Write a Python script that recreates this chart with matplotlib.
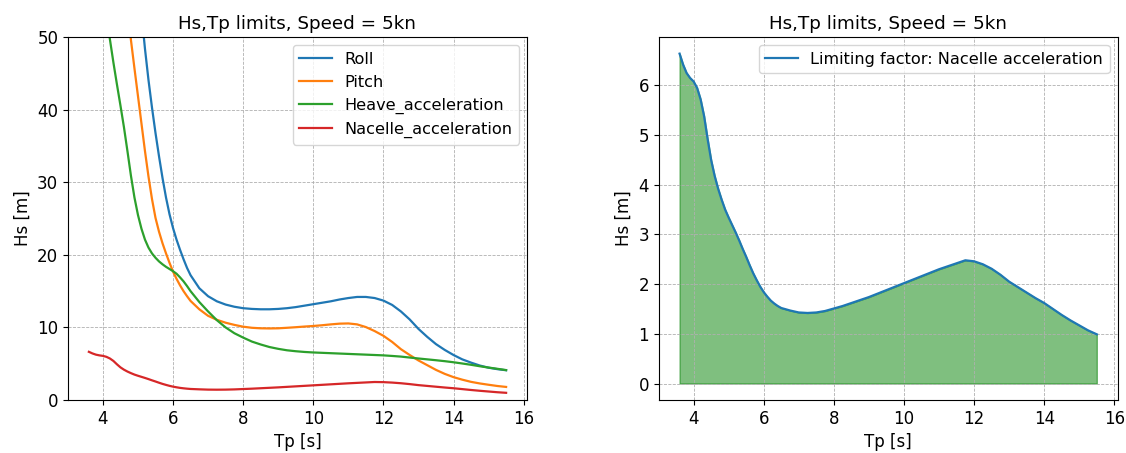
import matplotlib
matplotlib.use("Agg")
import matplotlib.pyplot as plt

plt.rcParams['font.family'] = ['DejaVu Sans']
plt.rcParams['font.size'] = 12

Tp = [3.6, 3.7, 3.8, 3.9, 4.0, 4.1, 4.2, 4.3, 4.4, 4.5, 4.6, 4.7, 4.8, 4.9, 5.0,
      5.1, 5.2, 5.3, 5.4, 5.5, 5.6, 5.7, 5.8, 5.9, 6.0, 6.1, 6.2, 6.3, 6.4, 6.5,
      6.75, 7.0, 7.25, 7.5, 7.75, 8.0, 8.25, 8.5, 8.75, 9.0, 9.25, 9.5, 9.75,
      10.0, 10.25, 10.5, 10.75, 11.0, 11.25, 11.5, 11.75, 12.0, 12.25, 12.5, 12.75,
      13.0, 13.25, 13.5, 13.75, 14.0, 14.25, 14.5, 14.75, 15.0, 15.25, 15.5]

roll = [300, 270, 240, 215, 190, 170, 150, 133, 118, 105, 94, 84, 75, 67, 60,
        53.3, 48.4, 44.1, 40.3, 36.8, 33.6, 30.6, 27.9, 25.6, 23.7, 22.1, 20.7, 19.4, 18.2, 17.2,
        15.4, 14.3, 13.6, 13.15, 12.85, 12.65, 12.55, 12.5, 12.5, 12.55, 12.65, 12.8, 13.0,
        13.2, 13.4, 13.6, 13.85, 14.05, 14.2, 14.2, 14.05, 13.7, 13.1, 12.2, 11.1,
        9.8, 8.7, 7.7, 6.9, 6.2, 5.6, 5.15, 4.75, 4.45, 4.25, 4.1]

pitch = [200, 180, 162, 146, 132, 119, 107, 96, 80, 70, 61.5, 54.6, 49.6, 45.7, 41.9,
         38.1, 34.3, 30.8, 27.7, 25.1, 23.2, 21.6, 20.2, 18.9, 17.7, 16.7, 15.8, 15.0, 14.3, 13.65,
         12.5, 11.6, 11.05, 10.65, 10.35, 10.1, 9.95, 9.88, 9.86, 9.88, 9.95, 10.03, 10.12,
         10.2, 10.3, 10.42, 10.52, 10.55, 10.42, 10.05, 9.5, 8.85, 8.0, 7.0, 6.2,
         5.45, 4.8, 4.15, 3.6, 3.15, 2.8, 2.5, 2.28, 2.1, 1.93, 1.8]

heave = [90, 80, 71, 63.5, 57.5, 53.2, 49.7, 46.5, 43.5, 40.6, 37.6, 34.3, 30.9, 27.9, 25.5,
         23.6, 22.1, 21.0, 20.2, 19.6, 19.1, 18.7, 18.35, 18.05, 17.75, 17.4, 16.9, 16.35, 15.7, 15.0,
         13.5, 12.2, 11.0, 10.0, 9.2, 8.6, 8.05, 7.65, 7.3, 7.05, 6.85, 6.72, 6.62,
         6.55, 6.5, 6.45, 6.4, 6.35, 6.3, 6.25, 6.2, 6.15, 6.07, 5.98, 5.85,
         5.72, 5.6, 5.48, 5.35, 5.2, 5.03, 4.85, 4.65, 4.47, 4.3, 4.12]

nacelle = [6.64, 6.42, 6.25, 6.15, 6.08, 5.95, 5.72, 5.38, 4.92, 4.50, 4.18, 3.92, 3.70, 3.50, 3.34,
           3.19, 3.04, 2.88, 2.71, 2.55, 2.38, 2.22, 2.08, 1.95, 1.84, 1.75, 1.67, 1.61, 1.56, 1.52,
           1.47, 1.43, 1.42, 1.43, 1.46, 1.51, 1.56, 1.62, 1.68, 1.74, 1.81, 1.88, 1.95,
           2.02, 2.09, 2.16, 2.23, 2.30, 2.36, 2.42, 2.48, 2.46, 2.40, 2.31, 2.19,
           2.05, 1.94, 1.83, 1.72, 1.62, 1.50, 1.38, 1.27, 1.17, 1.07, 0.99]

series_names = ["Roll", "Pitch", "Heave_acceleration", "Nacelle_acceleration"]
title = "Hs,Tp limits, Speed = 5kn"
limit_label = "Limiting factor: Nacelle acceleration"

fig = plt.figure(figsize=(11.26, 4.53), dpi=100)
ax1 = fig.add_axes([0.0604, 0.117, 0.4076, 0.801])
ax2 = fig.add_axes([0.585, 0.117, 0.4076, 0.801])

for vals, name in zip([roll, pitch, heave, nacelle], series_names):
    ax1.plot(Tp, vals, label=name, lw=1.6)
ax1.set_ylim(0, 50)
ax1.set_title(title, fontsize=13.2)
ax1.set_xlabel("Tp [s]")
ax1.set_ylabel("Hs [m]")
ax1.grid(True, ls='--', lw=0.6, color='#b0b0b0')
ax1.legend(loc='upper right', fontsize=11.6)

ax2.fill_between(Tp, 0, nacelle, color='green', alpha=0.5)
ax2.plot(Tp, nacelle, color='C0', lw=1.6, label=limit_label)
ax2.set_title(title, fontsize=13.2)
ax2.set_xlabel("Tp [s]")
ax2.set_ylabel("Hs [m]")
ax2.grid(True, ls='--', lw=0.6, color='#b0b0b0')
ax2.legend(loc='upper right', fontsize=11.6)

for ax in (ax1, ax2):
    ax.set_xticks([4, 6, 8, 10, 12, 14, 16])

fig.savefig("out.png", dpi=100)
